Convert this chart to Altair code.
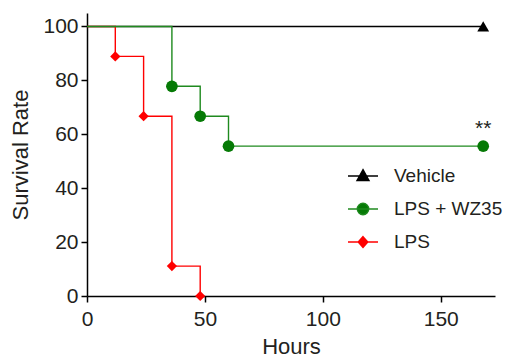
import altair as alt
import pandas as pd

# ---- data ----
series = ["Vehicle", "LPS + WZ35", "LPS"]
line_colors = ["#000000", "#1f8a1f", "#ff0000"]
marker_colors = ["#000000", "#067a06", "#ff0000"]
marker_shapes = ["triangle-up", "circle", "diamond"]
marker_sizes = [140, 137, 105]

veh_hours = [0, 168]
veh_surv = [100, 100]
wz_hours = [0, 36, 48, 60, 168]
wz_surv = [100, 77.8, 66.7, 55.6, 55.6]
lps_hours = [0, 12, 24, 36, 48]
lps_surv = [100, 88.9, 66.7, 11.1, 0]

x_ticks = [0, 50, 100, 150]
y_ticks = [0, 20, 40, 60, 80, 100]

star_hours = [168]
star_surv = [55.6]
star_text = ["**"]

# legend symbols: line segment + marker (unit box -1..1)
legend_paths = [
    "M-1,0H1M0,-0.42L0.4,0.3L-0.4,0.3Z",
    "M-1,0H1M0.38,0A0.38,0.38,0,1,1,-0.38,0A0.38,0.38,0,1,1,0.38,0Z",
    "M-1,0H1M0,-0.36L0.32,0L0,0.36L-0.32,0Z",
]

rows = []
for s, hs, vs in [
    ("Vehicle", veh_hours, veh_surv),
    ("LPS + WZ35", wz_hours, wz_surv),
    ("LPS", lps_hours, lps_surv),
]:
    for h, v in zip(hs, vs):
        rows.append({"series": s, "hours": h, "surv": v})
df = pd.DataFrame(rows)

FONT = "Liberation Sans"
TXT = "#231f20"

xscale = alt.Scale(domain=[0, 173], nice=False, zero=False)
yscale = alt.Scale(domain=[0, 105], nice=False)

xenc = alt.X("hours:Q", scale=xscale,
             axis=alt.Axis(values=x_ticks, title="Hours", titlePadding=7,
                           labelFlush=False, labelPadding=6))
yenc = alt.Y("surv:Q", scale=yscale,
             axis=alt.Axis(values=y_ticks, title="Survival Rate", titlePadding=10,
                           labelFlush=False, labelPadding=3))

layers = []
draw_order = ["Vehicle", "LPS", "LPS + WZ35"]
for s in draw_order:
    i = series.index(s)
    sub = alt.Chart(df).transform_filter(alt.datum.series == s)
    layers.append(
        sub.mark_line(interpolate="step-after", strokeWidth=1.4, color=line_colors[i])
        .encode(x=xenc, y=yenc)
    )
for s in draw_order:
    i = series.index(s)
    sub = alt.Chart(df).transform_filter((alt.datum.series == s) & (alt.datum.hours > 0))
    layers.append(
        sub.mark_point(filled=True, opacity=1, shape=marker_shapes[i],
                       size=marker_sizes[i], color=marker_colors[i])
        .encode(x=xenc, y=yenc)
    )

star_df = pd.DataFrame({"hours": star_hours, "surv": star_surv, "label": star_text})
layers.append(
    alt.Chart(star_df).mark_text(fontSize=21, font=FONT, color=TXT, dy=-17,
                                 baseline="middle")
    .encode(x=xenc, y=yenc, text="label:N")
)

leg = alt.Legend(title=None, orient="none", legendX=260, legendY=147,
                 symbolSize=900, symbolStrokeWidth=1.4, symbolOpacity=1,
                 labelFontSize=19, labelFont=FONT, labelColor=TXT,
                 rowPadding=7, labelOffset=15, padding=0, labelLimit=300)
legend_layer = (
    alt.Chart(df).transform_filter("false").mark_point(filled=True, opacity=1)
    .encode(
        fill=alt.Fill("series:N", scale=alt.Scale(domain=series, range=marker_colors), legend=leg),
        stroke=alt.Stroke("series:N", scale=alt.Scale(domain=series, range=line_colors), legend=leg),
        shape=alt.Shape("series:N", scale=alt.Scale(domain=series, range=legend_paths), legend=leg),
    )
)
layers.append(legend_layer)

chart = (
    alt.layer(*layers)
    .properties(width=408, height=283,
                autosize=alt.AutoSizeParams(type="none"),
                padding={"left": 79, "top": 5, "right": 8, "bottom": 62})
    .configure_view(stroke=None)
    .configure_axis(grid=False, domainColor="#000000", domainWidth=1.5,
                    tickColor="#000000", tickWidth=1.5, tickSize=6,
                    labelFont=FONT, labelFontSize=21, labelColor=TXT,
                    titleFont=FONT, titleFontSize=22, titleFontWeight="normal",
                    titleColor=TXT)
)

chart.save("out.html", embed_options={"renderer": "svg", "actions": False})
